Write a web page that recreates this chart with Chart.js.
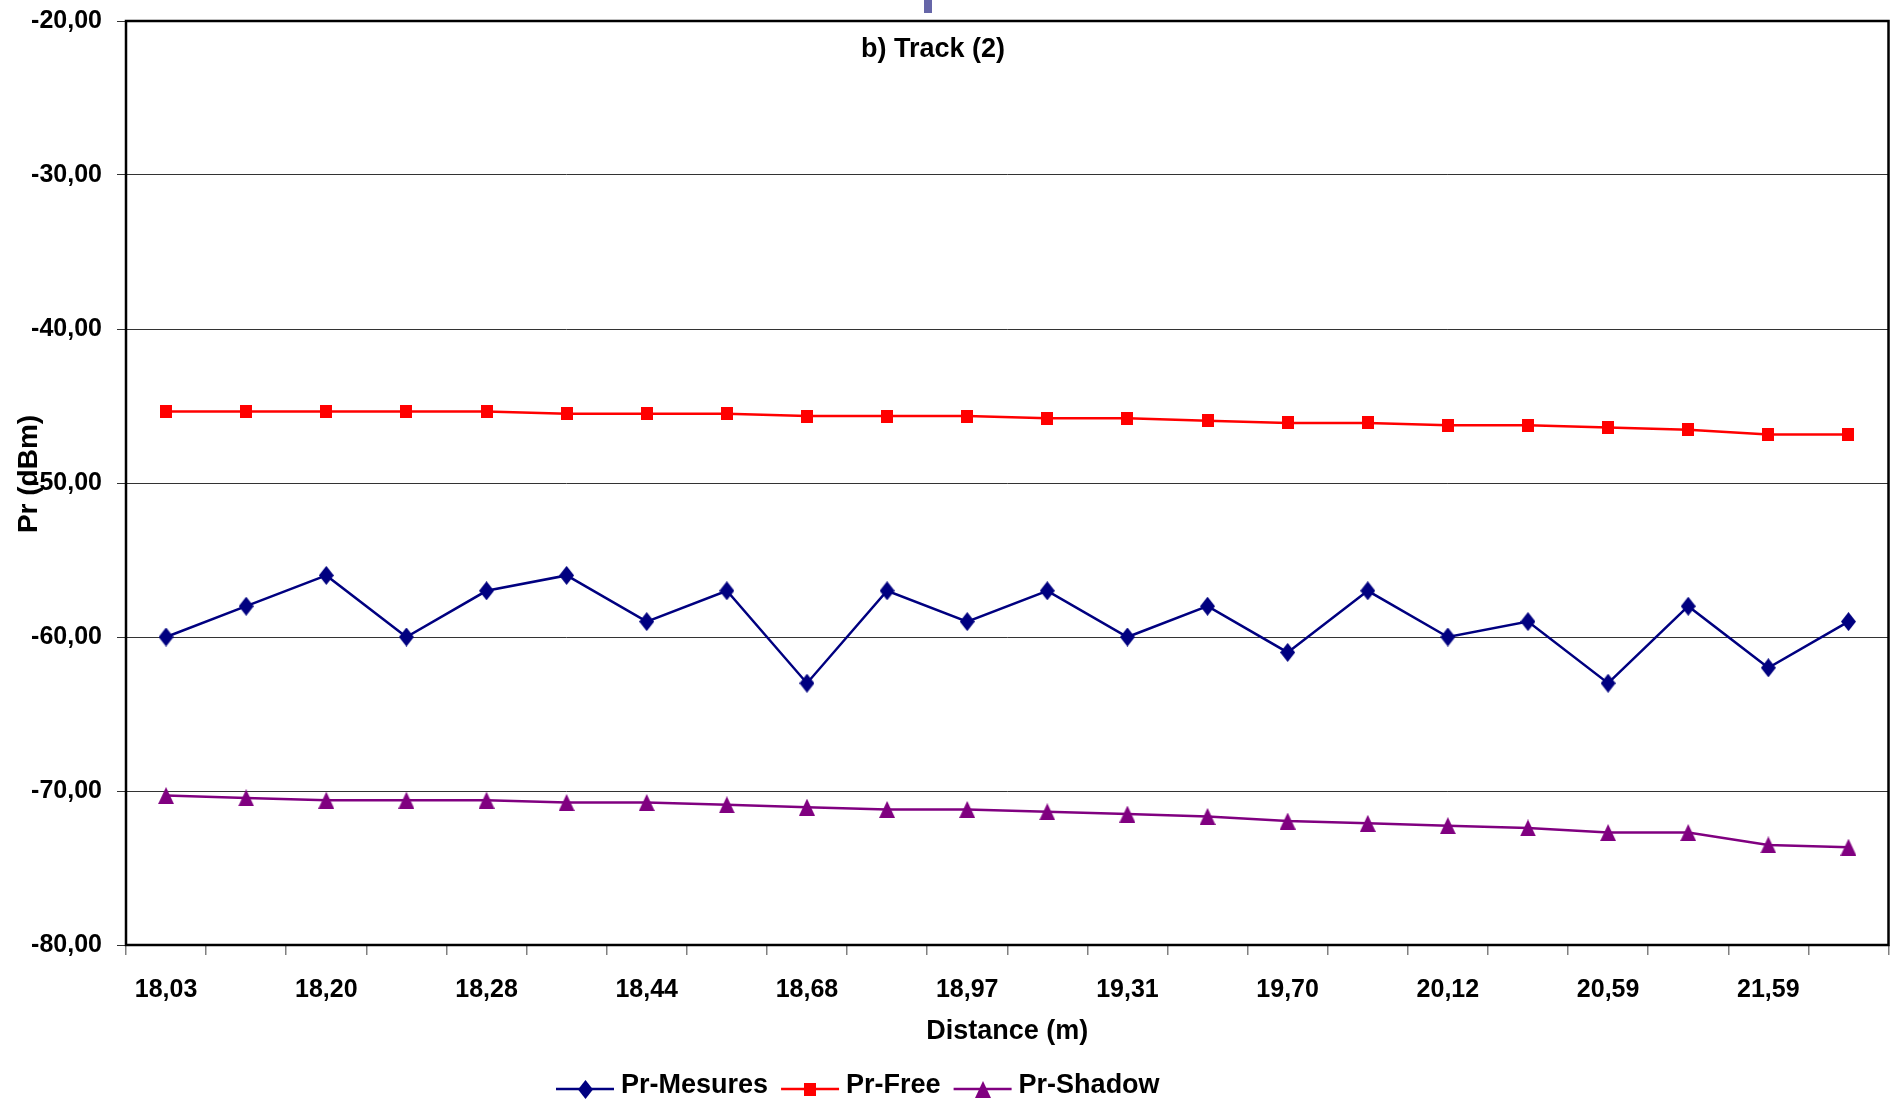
<!DOCTYPE html>
<html>
<head>
<meta charset="utf-8">
<script src="https://cdn.jsdelivr.net/npm/chart.js@4.4.0/dist/chart.umd.min.js"></script>
<style>
  html, body { margin: 0; padding: 0; background: #ffffff; }
  canvas { display: block; }
</style>
</head>
<body>
<canvas id="chart" width="1898" height="1102"></canvas>
<script>
// Distance along the track (m); every second label is printed on the axis
const distances = ['18,03','18,10','18,20','18,24','18,28','18,36','18,44','18,56','18,68','18,82','18,97',
                   '19,14','19,31','19,50','19,70','19,91','20,12','20,35','20,59','21,09','21,59','22,10'];

// Received power (dBm)
const prMesures = [-60, -58, -56, -60, -57, -56, -59, -57, -63, -57, -59,
                   -57, -60, -58, -61, -57, -60, -59, -63, -58, -62, -59];
const prFree    = [-45.35, -45.35, -45.35, -45.35, -45.35, -45.5, -45.5, -45.5, -45.65, -45.65, -45.65,
                   -45.8, -45.8, -45.95, -46.1, -46.1, -46.25, -46.25, -46.4, -46.55, -46.85, -46.85];
const prShadow  = [-70.3, -70.45, -70.6, -70.6, -70.6, -70.75, -70.75, -70.9, -71.05, -71.2, -71.2,
                   -71.35, -71.5, -71.65, -71.95, -72.1, -72.25, -72.4, -72.7, -72.7, -73.5, -73.65];

const seriesNames = ['Pr-Mesures', 'Pr-Free', 'Pr-Shadow'];
const yMin = -80, yMax = -20, yStep = 10;

const FONT = "'Liberation Sans', Arial, sans-serif";
Chart.defaults.font.family = FONT;

// Category labels use a condensed face when one is installed
function fontInstalled(name) {
  const g = document.createElement('canvas').getContext('2d');
  g.font = 'bold 40px monospace';
  const a = g.measureText('18,03 WgMi').width;
  g.font = "bold 40px '" + name + "', monospace";
  const b = g.measureText('18,03 WgMi').width;
  return a !== b;
}
const narrow = fontInstalled('Liberation Sans Narrow');
const xTickFont = narrow
  ? { family: "'Liberation Sans Narrow', 'Liberation Sans', Arial, sans-serif", size: 29, weight: 'bold' }
  : { family: FONT, size: 25, weight: 'bold' };
const xTickPad = narrow ? 18 : 20;

// Marker glyphs drawn once on small canvases
function marker(kind, color, w, h) {
  const c = document.createElement('canvas');
  c.width = w; c.height = h;
  const g = c.getContext('2d');
  g.fillStyle = color;
  g.beginPath();
  if (kind === 'diamond') {
    g.moveTo(w / 2, 0); g.lineTo(w, h / 2); g.lineTo(w / 2, h); g.lineTo(0, h / 2);
  } else if (kind === 'square') {
    g.rect(0, 0, w, h);
  } else {
    g.moveTo(w / 2, 0); g.lineTo(w, h); g.lineTo(0, h);
  }
  g.closePath();
  g.fill();
  return c;
}

const NAVY = '#000080', RED = '#ff0000', PURPLE = '#800080';
const diamond  = marker('diamond', NAVY, 15, 19);
const square   = marker('square', RED, 12, 13);
const triangle = marker('triangle', PURPLE, 16, 17);

// Plot frame, panel caption, vertical axis title and the bottom legend
const decorations = {
  id: 'decorations',
  beforeDatasetsDraw(chart) {
    const { ctx, chartArea: a } = chart;
    ctx.save();
    ctx.strokeStyle = '#000';
    ctx.lineWidth = 2.5;
    ctx.strokeRect(a.left, a.top, a.right - a.left, a.bottom - a.top);
    ctx.restore();
  },
  afterDraw(chart) {
    const { ctx } = chart;
    ctx.save();
    // fragment of the neighbouring panel above
    ctx.fillStyle = '#6666a8';
    ctx.fillRect(924, 0, 8, 13);

    ctx.fillStyle = '#000';
    ctx.font = 'bold 27px ' + FONT;
    ctx.textAlign = 'center';
    ctx.textBaseline = 'middle';
    ctx.fillText('b) Track (2)', 933, 50);

    ctx.save();
    ctx.font = 'bold 28px ' + FONT;
    ctx.translate(29, 474);
    ctx.rotate(-Math.PI / 2);
    ctx.fillText('Pr (dBm)', 0, 0);
    ctx.restore();

    // legend: line + marker + series name
    ctx.font = 'bold 27px ' + FONT;
    ctx.textAlign = 'left';
    let x = 556;
    const ly = 1089;
    chart.data.datasets.forEach(ds => {
      ctx.strokeStyle = ds.borderColor;
      ctx.lineWidth = 2.5;
      ctx.beginPath();
      ctx.moveTo(x, ly);
      ctx.lineTo(x + 58, ly);
      ctx.stroke();
      const img = ds.pointStyle;
      ctx.drawImage(img, Math.round(x + 29 - img.width / 2), Math.round(ly - img.height / 2));
      ctx.fillStyle = '#000';
      ctx.fillText(ds.label, x + 65, 1086);
      x += 65 + ctx.measureText(ds.label).width + 13;
    });
    ctx.restore();
  }
};

new Chart(document.getElementById('chart'), {
  type: 'line',
  data: {
    labels: distances,
    datasets: [
      { label: seriesNames[0], data: prMesures, borderColor: NAVY, backgroundColor: NAVY,
        borderWidth: 2.5, pointStyle: diamond, pointRadius: 7, tension: 0 },
      { label: seriesNames[1], data: prFree, borderColor: RED, backgroundColor: RED,
        borderWidth: 2.5, pointStyle: square, pointRadius: 7, tension: 0 },
      { label: seriesNames[2], data: prShadow, borderColor: PURPLE, backgroundColor: PURPLE,
        borderWidth: 2.5, pointStyle: triangle, pointRadius: 7, tension: 0 }
    ]
  },
  options: {
    responsive: false,
    animation: false,
    devicePixelRatio: 1,
    events: [],
    layout: { padding: { left: 0, right: 5, top: 21, bottom: 0 } },
    plugins: {
      legend: { display: false },
      title: { display: false },
      tooltip: { enabled: false }
    },
    scales: {
      x: {
        offset: true,
        grid: { display: true, offset: true, drawOnChartArea: false, tickLength: 10, color: '#808080', lineWidth: 1.5 },
        border: { display: false },
        ticks: {
          autoSkip: false, maxRotation: 0, minRotation: 0, padding: xTickPad,
          color: '#000', font: xTickFont,
          callback: (v, i) => (i % 2 === 0 ? distances[i] : '')
        },
        title: { display: true, text: 'Distance (m)', color: '#000',
                 font: { size: 27, weight: 'bold' }, padding: { top: 0, bottom: 54 } },
        afterFit: s => { s.height = 157; s.paddingLeft = 0; s.paddingRight = 0; }
      },
      y: {
        min: yMin, max: yMax,
        grid: { color: '#333333', lineWidth: 1, tickLength: 9 },
        border: { display: false },
        ticks: {
          stepSize: yStep, padding: 15, color: '#000', font: { size: 25, weight: 'bold' },
          callback: v => v.toFixed(2).replace('.', ',')
        },
        afterFit: s => { s.width = 126; s.paddingTop = 0; s.paddingBottom = 0; }
      }
    }
  },
  plugins: [decorations]
});
</script>
</body>
</html>
